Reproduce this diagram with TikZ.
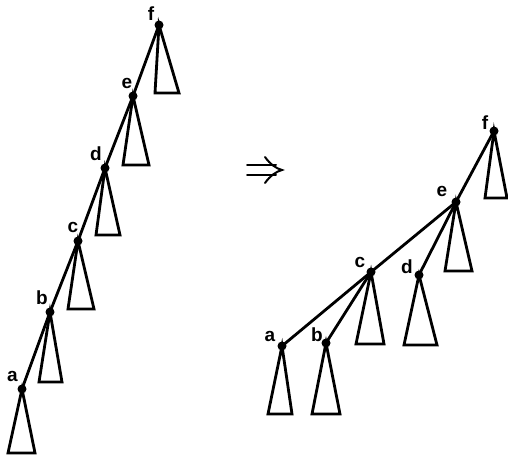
\documentclass[tikz,border=0pt]{standalone}
\usepackage{fontspec}
\newfontfamily\lblfont{Liberation Sans}
\tikzset{
  vtx/.style={circle,fill=black,inner sep=0pt,minimum size=9pt},
  edge/.style={line width=2.8pt},
  tri/.style={line width=2.8pt,line join=miter},
  arrw/.style={line width=2pt,line cap=round},
  lbl/.style={anchor=base,inner sep=0pt,font=\lblfont\fontsize{19}{19}\bfseries\selectfont}
}
\begin{document}
\begin{tikzpicture}[x=1pt,y=-1pt]
\useasboundingbox (0,0) rectangle (508,460);
% ---------- left chain ----------
\node[vtx] (Lf) at (159,25) {};
\node[vtx] (Le) at (133,96) {};
\node[vtx] (Ld) at (105,168) {};
\node[vtx] (Lc) at (78,241) {};
\node[vtx] (Lb) at (50,312) {};
\node[vtx] (La) at (22,389) {};
\node[lbl] (tLf) at (151,21) {f};
\node[lbl] (tLe) at (127,88) {e};
\node[lbl] (tLd) at (96,160) {d};
\node[lbl] (tLc) at (73,232) {c};
\node[lbl] (tLb) at (42,304) {b};
\node[lbl] (tLa) at (12.5,381) {a};
\draw[edge] (Lf.center) -- (Le.center) -- (Ld.center) -- (Lc.center) -- (Lb.center) -- (La.center);
\draw[tri] (Lf.center) -- (155,93) -- (179,93) -- cycle;
\draw[tri] (Le.center) -- (123,165) -- (149,165) -- cycle;
\draw[tri] (Ld.center) -- (96,235) -- (120,235) -- cycle;
\draw[tri] (Lc.center) -- (68,309) -- (94,309) -- cycle;
\draw[tri] (Lb.center) -- (39,382) -- (62,382) -- cycle;
\draw[tri] (La.center) -- (8,453) -- (35,453) -- cycle;
% ---------- arrow (double arrow symbol) ----------
\draw[arrw] (247,165) -- (276,165);
\draw[arrw] (247,175) -- (276,175);
\draw[arrw] (265,157) .. controls (270,164) and (276,168.5) .. (282,170)
            .. controls (276,171.5) and (270,176) .. (265,183);
% ---------- right tree ----------
\node[vtx] (Rf) at (494,131) {};
\node[vtx] (Re) at (456,202) {};
\node[vtx] (Rc) at (371,272) {};
\node[vtx] (Rd) at (419,275) {};
\node[vtx] (Ra) at (282,346) {};
\node[vtx] (Rb) at (326,343) {};
\node[lbl] (tRf) at (485,129) {f};
\node[lbl] (tRe) at (442,196) {e};
\node[lbl] (tRc) at (360,267) {c};
\node[lbl] (tRd) at (407,273) {d};
\node[lbl] (tRa) at (270,341) {a};
\node[lbl] (tRb) at (317,341) {b};
\draw[edge] (Rf.center) -- (Re.center);
\draw[edge] (Re.center) -- (Rc.center);
\draw[edge] (Re.center) -- (Rd.center);
\draw[edge] (Rc.center) -- (Ra.center);
\draw[edge] (Rc.center) -- (Rb.center);
\draw[tri] (Rf.center) -- (485,198) -- (507,198) -- cycle;
\draw[tri] (Re.center) -- (445,271) -- (472,271) -- cycle;
\draw[tri] (Rc.center) -- (356,344) -- (384,344) -- cycle;
\draw[tri] (Rd.center) -- (404,345) -- (437,345) -- cycle;
\draw[tri] (Ra.center) -- (268,414) -- (292,414) -- cycle;
\draw[tri] (Rb.center) -- (312,414) -- (340,414) -- cycle;
\end{tikzpicture}
\end{document}
